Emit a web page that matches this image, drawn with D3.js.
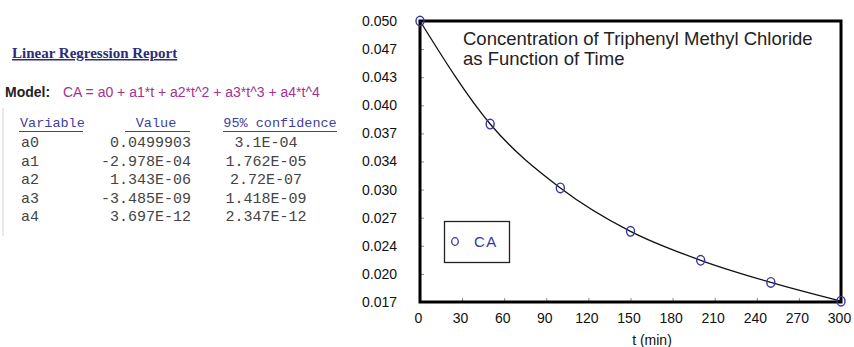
<!DOCTYPE html>
<html>
<head>
	<title>Triphenyl Methyl Chloride</title>
	<script src="https://cdnjs.cloudflare.com/ajax/libs/d3/7.8.5/d3.min.js"></script>
</head>
<style type="text/css">
	body { margin: 0; background-color: #fff; }
	svg { font-family: "Liberation Sans", Arial, sans-serif; }
</style>
<body>

</body>
</html>
<script type="text/javascript">
	var width = 854;
	var height = 347;

	// measured samples
	var times = [0, 50, 100, 150, 200, 250, 300];
	var ca = [0.0500, 0.0379, 0.0304, 0.0253, 0.0219, 0.0193, 0.0171];

	var xTicks = [0, 30, 60, 90, 120, 150, 180, 210, 240, 270, 300];
	var yTicks = [0.017, 0.0203, 0.0236, 0.0269, 0.0302, 0.0335, 0.0368, 0.0401, 0.0434, 0.0467, 0.050];
	var yTickLabels = ["0.017", "0.020", "0.024", "0.027", "0.030", "0.034", "0.037", "0.040", "0.043", "0.047", "0.050"];

	// regression report table
	var variables = ["a0", "a1", "a2", "a3", "a4"];
	var values = ["0.0499903", "-2.978E-04", "1.343E-06", "-3.485E-09", "3.697E-12"];
	var confidence = ["3.1E-04", "1.762E-05", "2.72E-07", "1.418E-09", "2.347E-12"];

	var svg = d3.select("body").append("svg").attr("width", width).attr("height", height);

	// ---- left panel: report ----
	var rep = svg.append("g");
	rep.append("line").attr("x1", 3).attr("x2", 3).attr("y1", 108).attr("y2", 236)
		.attr("stroke", "#d4d4d4");

	rep.append("text").attr("x", 12).attr("y", 58)
		.style("font-family", "'Liberation Serif', 'Times New Roman', serif")
		.style("font-weight", "bold").style("font-size", "15px")
		.attr("fill", "#2c2c7a").attr("text-decoration", "underline")
		.text("Linear Regression Report");

	rep.append("text").attr("x", 5).attr("y", 97)
		.style("font-weight", "bold").style("font-size", "14px").attr("fill", "#222")
		.text("Model:");
	rep.append("text").attr("x", 63).attr("y", 97)
		.style("font-size", "14px").attr("fill", "#a3338f")
		.text("CA = a0 + a1*t + a2*t^2 + a3*t^3 + a4*t^4");

	var mono = "'Liberation Mono', 'Courier New', monospace";
	var headers = [{t: "Variable", x: 20, a: "start", u: [19, 83]},
				   {t: "Value", x: 156, a: "middle", u: [125, 190]},
				   {t: "95% confidence", x: 280, a: "middle", u: [223, 337]}];
	headers.forEach(function(h){
		rep.append("text").attr("x", h.x).attr("y", 127).attr("text-anchor", h.a)
			.style("font-family", mono).style("font-size", "13.5px").attr("fill", "#3f3f9c")
			.text(h.t);
		rep.append("line").attr("x1", h.u[0]).attr("x2", h.u[1]).attr("y1", 131.5).attr("y2", 131.5)
			.attr("stroke", "#3f3f9c").attr("stroke-width", 1.2);
	});

	var rowY = d3.scalePoint().domain(variables).range([147, 221]);
	var rows = rep.selectAll("g.row").data(variables).enter().append("g")
		.attr("transform", function(d){ return "translate(0," + rowY(d) + ")"; });
	function cell(sel){
		return sel.style("font-family", mono).style("font-size", "15px").attr("fill", "#444");
	}
	cell(rows.append("text")).attr("x", 21).text(function(d){ return d; });
	cell(rows.append("text")).attr("x", 191).attr("text-anchor", "end").text(function(d,i){ return values[i]; });
	cell(rows.append("text")).attr("x", 266).attr("text-anchor", "middle").text(function(d,i){ return confidence[i]; });

	// ---- right panel: chart ----
	var x = d3.scaleLinear().domain([0, 300]).range([420, 841]);
	var y = d3.scaleLinear().domain([0.017, 0.050]).range([302, 21]);

	var yAxis = svg.append("g").attr("transform", "translate(" + x(0) + ",0)")
		.call(d3.axisLeft(y).tickValues(yTicks)
			.tickFormat(function(d,i){ return yTickLabels[i]; })
			.tickSizeInner(-4).tickSizeOuter(0).tickPadding(23));
	var xAxis = svg.append("g").attr("transform", "translate(0," + y(0.017) + ")")
		.call(d3.axisBottom(x).tickValues(xTicks).tickSizeInner(-4).tickSizeOuter(0).tickPadding(11));

	[xAxis, yAxis].forEach(function(a){
		a.select(".domain").remove();
		a.selectAll(".tick line").attr("stroke", "#8a8a8a");
		a.selectAll(".tick text").attr("fill", "#111")
			.style("font-family", "'Liberation Sans', Arial, sans-serif").style("font-size", "14px");
	});
	xAxis.selectAll(".tick text").attr("dx", -2);

	svg.append("rect").attr("x", x(0)).attr("y", y(0.050))
		.attr("width", x(300) - x(0)).attr("height", y(0.017) - y(0.050))
		.attr("fill", "none").attr("stroke", "#000").attr("stroke-width", 3);

	svg.append("text").attr("x", 652).attr("y", 345).attr("text-anchor", "middle")
		.style("font-size", "14px").attr("fill", "#111").text("t (min)");

	var title = svg.append("text").attr("x", 463).attr("y", 45)
		.style("font-size", "18.5px").attr("fill", "#222");
	title.append("tspan").attr("x", 463).text("Concentration of Triphenyl Methyl Chloride");
	title.append("tspan").attr("x", 463).attr("dy", 20).text("as Function of Time");

	var pts = times.map(function(t,i){ return {t: t, ca: ca[i]}; });

	var line = d3.line().x(function(d){ return x(d.t); }).y(function(d){ return y(d.ca); })
		.curve(d3.curveMonotoneX);
	svg.append("path").datum(pts).attr("d", line)
		.attr("fill", "none").attr("stroke", "#111").attr("stroke-width", 1.3);

	svg.selectAll("ellipse.pt").data(pts).enter().append("ellipse").attr("class", "pt")
		.attr("cx", function(d){ return x(d.t); }).attr("cy", function(d){ return y(d.ca); })
		.attr("rx", 4).attr("ry", 4.8)
		.attr("fill", "none").attr("stroke", "#3535a8").attr("stroke-width", 1.4);

	// legend
	svg.append("rect").attr("x", 444.5).attr("y", 221.5).attr("width", 65).attr("height", 41)
		.attr("fill", "#fff").attr("stroke", "#222").attr("stroke-width", 1.3);
	svg.append("ellipse").attr("cx", 455).attr("cy", 241.5).attr("rx", 3.3).attr("ry", 3.8)
		.attr("fill", "none").attr("stroke", "#3535a8").attr("stroke-width", 1.3);
	svg.append("text").attr("x", 474).attr("y", 247).style("font-size", "15px")
		.style("letter-spacing", "1.5px").attr("fill", "#3535a8").text("CA");

</script>
